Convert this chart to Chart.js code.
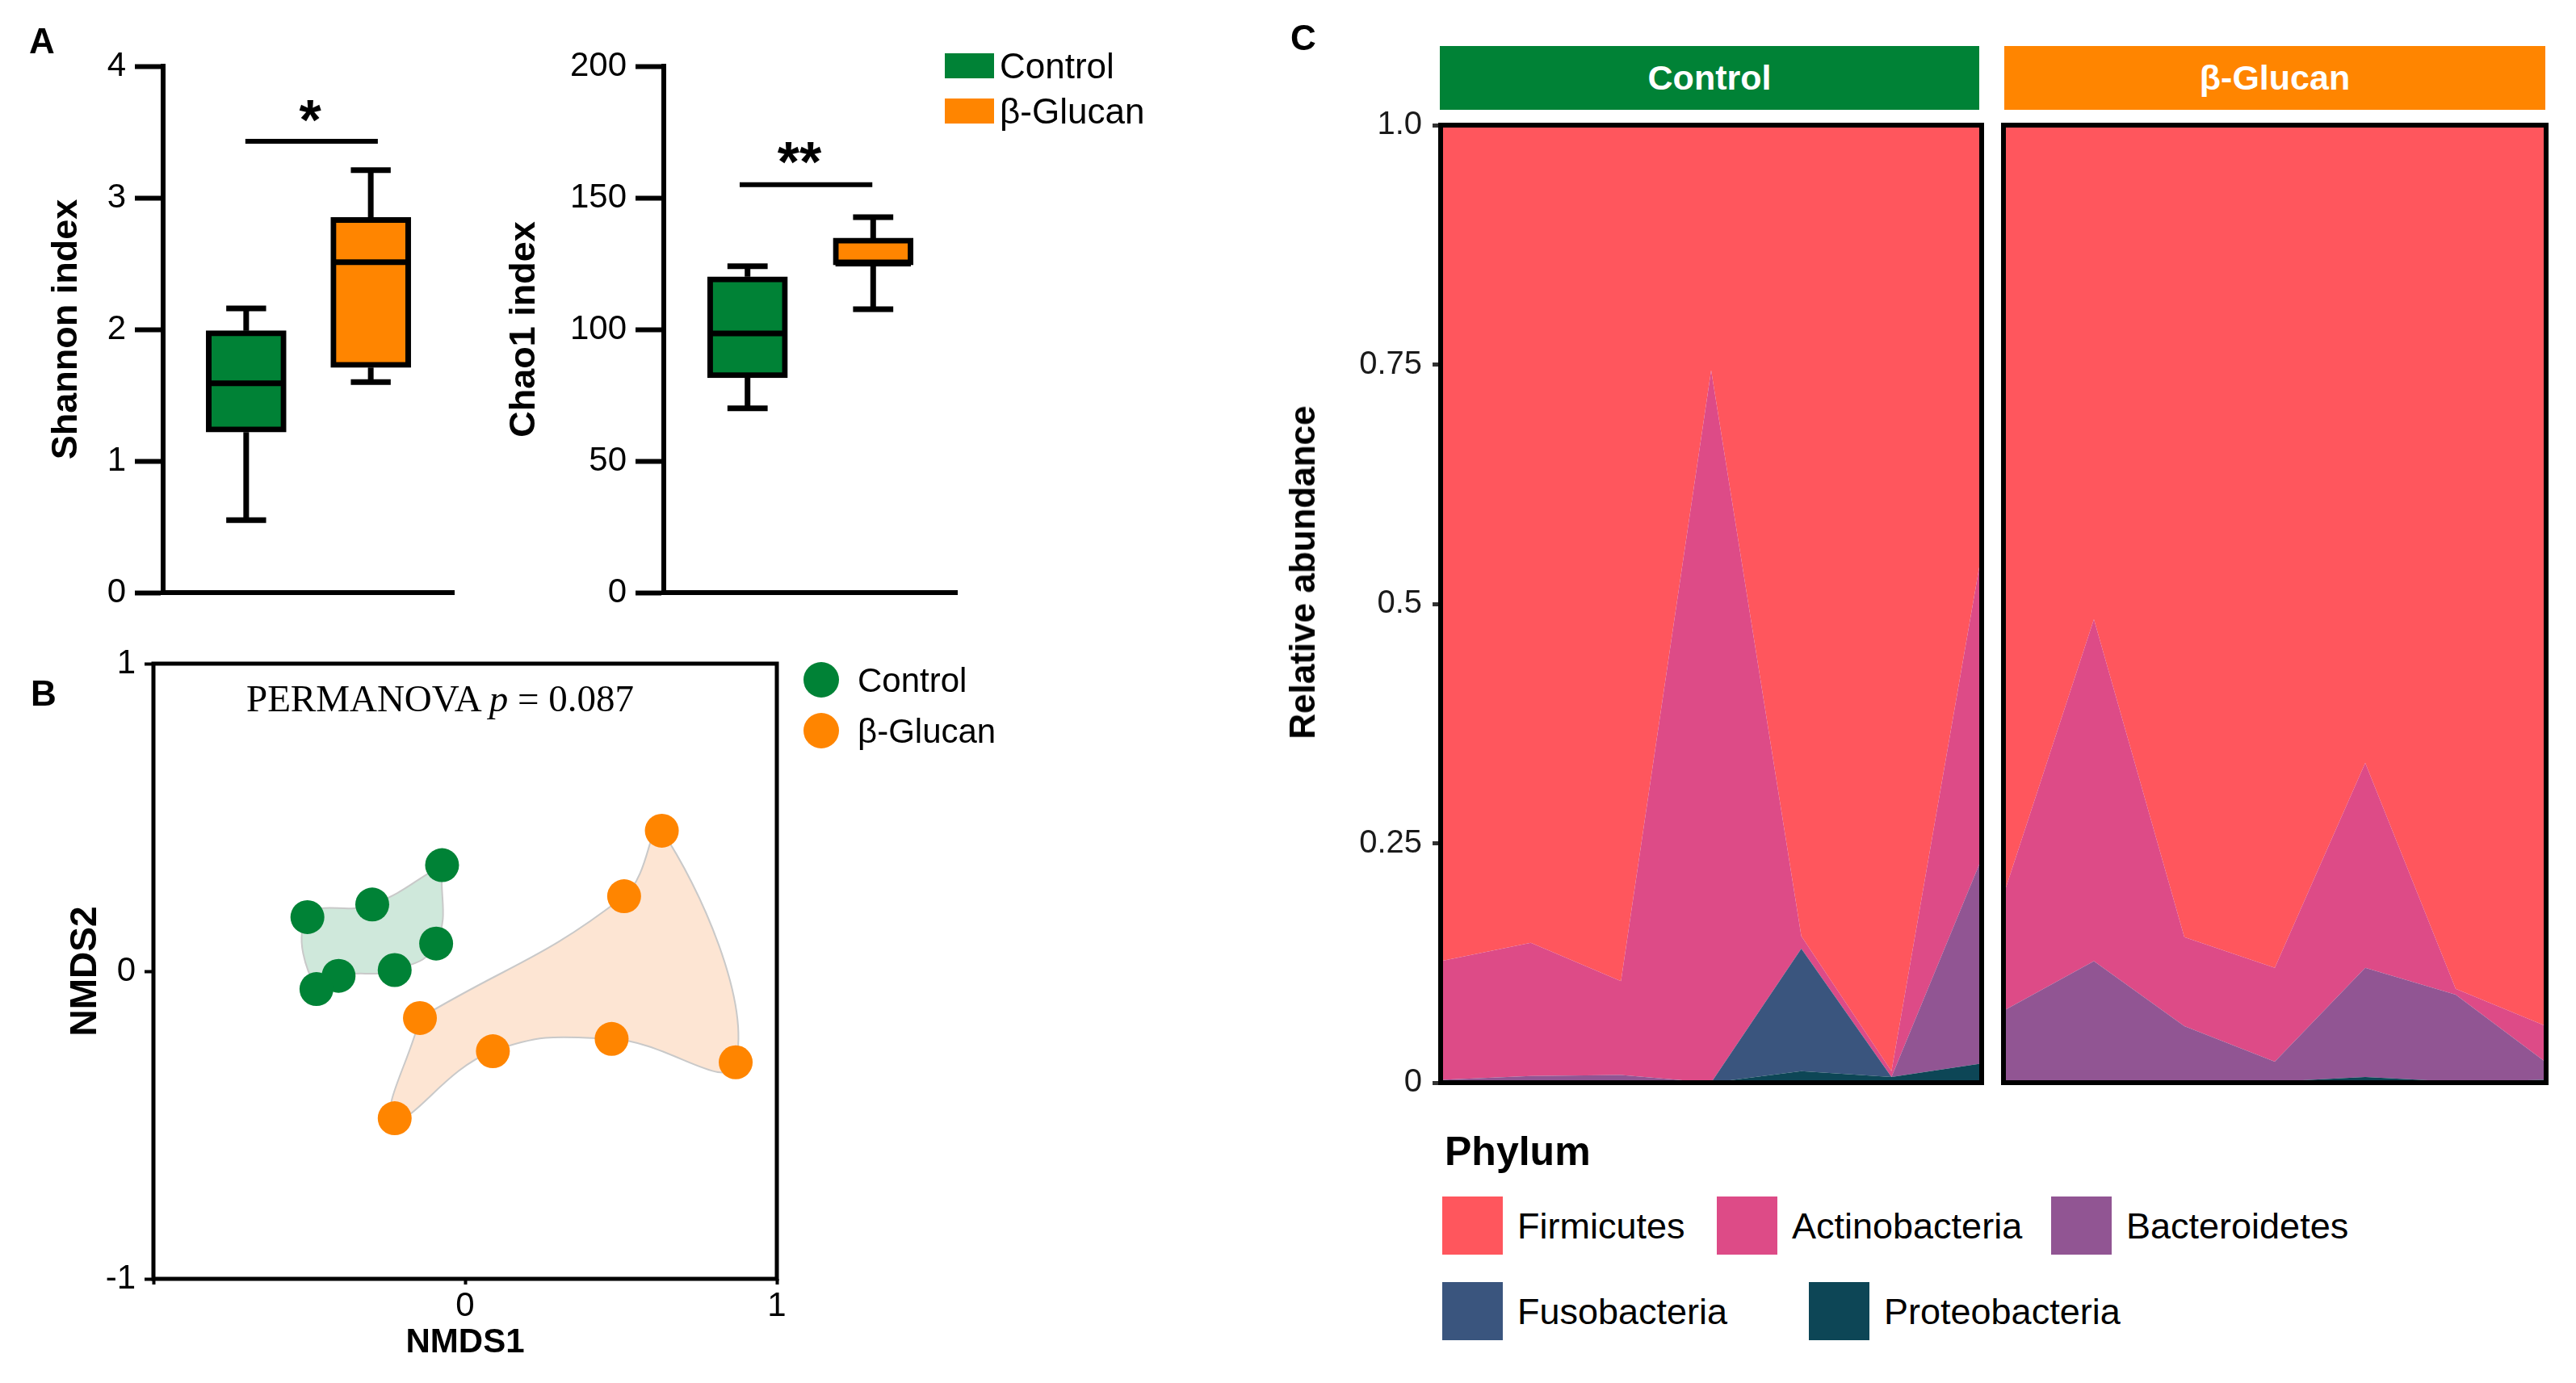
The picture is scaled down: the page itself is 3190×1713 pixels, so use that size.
<!DOCTYPE html>
<html><head><meta charset="utf-8">
<script src="https://cdn.jsdelivr.net/npm/chart.js@4/dist/chart.umd.min.js"></script>
<style>
html,body{margin:0;padding:0;background:#fff;}
body{width:3190px;height:1713px;position:relative;overflow:hidden;font-family:'Liberation Sans',Arial,sans-serif;}
canvas{position:absolute;}
.t{position:absolute;white-space:nowrap;line-height:1;color:#000;}
.sw{position:absolute;}
</style></head><body>
<canvas id="shannon" width="600" height="800" style="left:0;top:0"></canvas>
<canvas id="chao" width="600" height="800" style="left:600px;top:0"></canvas>
<canvas id="nmds" width="1000" height="933" style="left:0;top:780px"></canvas>
<canvas id="areaCtrl" width="900" height="1400" style="left:1560px;top:0"></canvas>
<canvas id="areaGlu" width="690" height="1400" style="left:2475px;top:0"></canvas>
<script>
// ================= DATA =================
const groups = ['Control', 'β-Glucan'];
const groupColors = ['#008236', '#FF8500'];
const groupPos = [1, 2.5];

// Panel A – Shannon
const shannonMin = [0.55, 1.60];
const shannonQ1  = [1.22, 1.71];
const shannonMed = [1.59, 2.51];
const shannonQ3  = [1.99, 2.85];
const shannonMax = [2.16, 3.21];
const shannonTicks = [0, 1, 2, 3, 4];
const shannonSigSpan = [0.99, 2.585];
const shannonSigY = 3.43;
const shannonSigLabel = '*';
const shannonSigLabelPos = [1.77, 3.69];

// Panel A – Chao1
const chaoMin = [70, 107.7];
const chaoQ1  = [81.6, 124.5];
const chaoMed = [98.5, 125];
const chaoQ3  = [120, 134.7];
const chaoMax = [124, 142.6];
const chaoTicks = [0, 50, 100, 150, 200];
const chaoSigSpan = [0.906, 2.49];
const chaoSigY = 155;
const chaoSigLabel = '**';
const chaoSigLabelPos = [1.62, 168.7];

// Panel B – NMDS (listed in hull order)
const ctrlNmds1 = [-0.074, -0.093, -0.226, -0.406, -0.477, -0.506, -0.298];
const ctrlNmds2 = [0.345, 0.090, 0.004, -0.015, -0.058, 0.176, 0.217];
const gluNmds1  = [-0.145, 0.510, 0.631, 0.868, 0.470, 0.089, -0.226];
const gluNmds2  = [-0.152, 0.244, 0.457, -0.296, -0.220, -0.260, -0.478];
const nmdsTicks = [-1, 0, 1];
const nmdsXTickLabels = ['', '0', '1'];
const nmdsYTickLabels = ['-1', '0', '1'];
const permanovaP = '0.087';

// Panel C – relative abundance (7 samples per group)
const phyla = ['Firmicutes', 'Actinobacteria', 'Bacteroidetes', 'Fusobacteria', 'Proteobacteria'];
const phylaColors = ['#FF565D', '#DD4B87', '#915593', '#3A557E', '#0D4656'];
const samplesControl = ['C1', 'C2', 'C3', 'C4', 'C5', 'C6', 'C7'];
const samplesGlucan  = ['G1', 'G2', 'G3', 'G4', 'G5', 'G6', 'G7'];
const ctrlFirmicutes     = [0.873, 0.854, 0.894, 0.256, 0.847, 0.988, 0.447];
const ctrlActinobacteria = [0.124, 0.139, 0.098, 0.744, 0.013, 0.006, 0.319];
const ctrlBacteroidetes  = [0.002, 0.005, 0.006, 0.000, 0.000, 0.000, 0.214];
const ctrlFusobacteria   = [0.000, 0.000, 0.000, 0.000, 0.128, 0.000, 0.000];
const ctrlProteobacteria = [0.001, 0.002, 0.002, 0.000, 0.012, 0.006, 0.020];
const gluFirmicutes      = [0.804, 0.516, 0.848, 0.880, 0.666, 0.902, 0.941];
const gluActinobacteria  = [0.121, 0.357, 0.093, 0.098, 0.214, 0.006, 0.038];
const gluBacteroidetes   = [0.074, 0.126, 0.057, 0.021, 0.114, 0.091, 0.018];
const gluFusobacteria    = [0.000, 0.000, 0.000, 0.000, 0.000, 0.000, 0.000];
const gluProteobacteria  = [0.001, 0.001, 0.002, 0.001, 0.006, 0.001, 0.003];
const abundTicks = [0, 0.25, 0.5, 0.75, 1];
const abundTickLabels = ['0', '0.25', '0.5', '0.75', '1.0'];

// ================= SETUP =================
const FONT = "'Liberation Sans', Arial, sans-serif";
Chart.defaults.font.family = FONT;
Chart.defaults.color = '#000';
Chart.defaults.animation = false;
Chart.defaults.events = [];
Chart.defaults.plugins.legend.display = false;
Chart.defaults.plugins.tooltip.enabled = false;

const fixedTicks = values => s => { s.ticks = values.map(v => ({value: v})); };

const framePlugin = {
  id: 'frame',
  afterDatasetsDraw(chart, args, o) {
    if (!o || !o.width) return;
    const {ctx, chartArea: a} = chart;
    ctx.save();
    ctx.lineWidth = o.width; ctx.strokeStyle = o.color || '#000';
    ctx.strokeRect(a.left, a.top, a.right - a.left, a.bottom - a.top);
    ctx.restore();
  }
};
const sigPlugin = {
  id: 'sig',
  afterDatasetsDraw(chart, args, o) {
    if (!o || !o.text) return;
    const {ctx, scales: {x, y}} = chart;
    ctx.save();
    ctx.font = `bold ${o.size}px ${FONT}`;
    ctx.textAlign = 'center'; ctx.textBaseline = 'alphabetic'; ctx.fillStyle = '#000';
    ctx.fillText(o.text, x.getPixelForValue(o.pos[0]), y.getPixelForValue(o.pos[1]) + 0.58 * o.size);
    ctx.restore();
  }
};

// ================= PANEL A =================
const CAP = 0.24, HALF = 0.45;
function boxChart(id, d) {
  const boxData = groupPos.map((x, i) => ({x, y: [d.q1[i], d.q3[i]]}));
  const lines = [];
  groupPos.forEach((x, i) => {
    lines.push({x, y: d.q3[i]}, {x, y: d.max[i]}, {x, y: null},
      {x: x - CAP, y: d.max[i]}, {x: x + CAP, y: d.max[i]}, {x, y: null},
      {x, y: d.q1[i]}, {x, y: d.min[i]}, {x, y: null},
      {x: x - CAP, y: d.min[i]}, {x: x + CAP, y: d.min[i]}, {x, y: null},
      {x: x - HALF, y: d.med[i]}, {x: x + HALF, y: d.med[i]}, {x, y: null});
  });
  new Chart(document.getElementById(id), {
    type: 'bar',
    data: { datasets: [
      {type: 'line', data: lines, borderColor: '#000', borderWidth: 7, pointRadius: 0, spanGaps: false, tension: 0, order: 1},
      {type: 'line', data: [{x: d.sigSpan[0], y: d.sigY}, {x: d.sigSpan[1], y: d.sigY}], borderColor: '#000', borderWidth: 6, pointRadius: 0, order: 1},
      {type: 'bar', data: boxData, backgroundColor: groupColors, borderColor: '#000', borderWidth: 7, borderSkipped: false, barThickness: 99, order: 2}
    ]},
    options: {
      responsive: false,
      layout: {padding: {left: 0, right: d.padRight, top: 82, bottom: 0}},
      scales: {
        x: {type: 'linear', min: 0, max: 3.5, offset: false, grid: {display: false, drawTicks: false}, ticks: {display: false},
            border: {display: true, width: 6, color: '#000'}, afterFit: s => { s.height = 66; }},
        y: {min: 0, max: d.ticks[d.ticks.length - 1], afterBuildTicks: fixedTicks(d.ticks),
            grid: {drawOnChartArea: false, drawTicks: true, tickLength: 35, tickWidth: 6, tickColor: '#000'},
            border: {display: true, width: 6, color: '#000'},
            ticks: {font: {size: 42}, color: '#000', padding: 11},
            title: {display: true, text: d.title, font: {size: 45, weight: 'bold'}, color: '#000', padding: {top: d.titlePad, bottom: 0}},
            afterFit: s => { s.width = d.yWidth; }}
      },
      plugins: {sig: {text: d.sigLabel, pos: d.sigPos, size: 70}}
    },
    plugins: [sigPlugin]
  });
}
boxChart('shannon', {min: shannonMin, q1: shannonQ1, med: shannonMed, q3: shannonQ3, max: shannonMax, ticks: shannonTicks,
  sigSpan: shannonSigSpan, sigY: shannonSigY, sigLabel: shannonSigLabel, sigPos: shannonSigLabelPos,
  title: 'Shannon index', titlePad: 56, yWidth: 202, padRight: 38});
boxChart('chao', {min: chaoMin, q1: chaoQ1, med: chaoMed, q3: chaoQ3, max: chaoMax, ticks: chaoTicks,
  sigSpan: chaoSigSpan, sigY: chaoSigY, sigLabel: chaoSigLabel, sigPos: chaoSigLabelPos,
  title: 'Chao1 index', titlePad: 23, yWidth: 222, padRight: 15});

// ================= PANEL B =================
const ctrlPts = ctrlNmds1.map((x, i) => ({x, y: ctrlNmds2[i]}));
const gluPts = gluNmds1.map((x, i) => ({x, y: gluNmds2[i]}));
new Chart(document.getElementById('nmds'), {
  type: 'line',
  data: { datasets: [
    {data: ctrlPts.concat([ctrlPts[0]]), showLine: true, fill: 'shape', backgroundColor: '#CFE8DB', borderColor: '#C9C9C9', borderWidth: 2, pointRadius: 0, tension: 0.45, order: 3},
    {data: gluPts.concat([gluPts[0]]), showLine: true, fill: 'shape', backgroundColor: '#FDE5D3', borderColor: '#C9C9C9', borderWidth: 2, pointRadius: 0, tension: 0.45, order: 3},
    {data: ctrlPts, showLine: false, pointRadius: 21, backgroundColor: groupColors[0], pointBackgroundColor: groupColors[0], pointBorderWidth: 0, order: 1},
    {data: gluPts, showLine: false, pointRadius: 21, backgroundColor: groupColors[1], pointBackgroundColor: groupColors[1], pointBorderWidth: 0, order: 1}
  ]},
  options: {
    responsive: false,
    layout: {padding: {left: 0, right: 38, top: 42, bottom: 0}},
    scales: {
      x: {type: 'linear', min: -1, max: 1, afterBuildTicks: fixedTicks(nmdsTicks),
          grid: {drawOnChartArea: false, drawTicks: true, tickLength: 7, tickWidth: 4, tickColor: '#000'},
          border: {display: false},
          ticks: {font: {size: 42}, color: '#000', padding: 2, callback: (v, i) => nmdsXTickLabels[i]},
          title: {display: true, text: 'NMDS1', font: {size: 42, weight: 'bold'}, color: '#000', padding: {top: 0, bottom: 24}},
          afterFit: s => { s.height = 129; }},
      y: {type: 'linear', min: -1, max: 1, afterBuildTicks: fixedTicks(nmdsTicks),
          grid: {drawOnChartArea: false, drawTicks: true, tickLength: 11, tickWidth: 4, tickColor: '#000'},
          border: {display: false},
          ticks: {font: {size: 42}, color: '#000', padding: 11, callback: (v, i) => nmdsYTickLabels[i]},
          title: {display: true, text: 'NMDS2', font: {size: 46, weight: 'bold'}, color: '#000', padding: {top: 79, bottom: 0}},
          afterFit: s => { s.width = 190; }}
    },
    plugins: {frame: {width: 5, color: '#000'}}
  },
  plugins: [framePlugin]
});

// ================= PANEL C =================
function areaChart(id, labels, series, showY, pad) {
  // series listed top → bottom; stack from bottom
  const order = [4, 3, 2, 1, 0];
  const datasets = order.map((k, j) => ({
    label: phyla[k], data: series[k], backgroundColor: phylaColors[k], borderWidth: 0,
    pointRadius: 0, tension: 0, fill: j === 0 ? 'origin' : '-1'
  }));
  new Chart(document.getElementById(id), {
    type: 'line',
    data: {labels, datasets},
    options: {
      responsive: false,
      layout: {padding: pad},
      scales: {
        x: {type: 'category', display: false, offset: false},
        y: {display: showY, stacked: true, min: 0, max: 1, afterBuildTicks: fixedTicks(abundTicks),
            grid: {drawOnChartArea: false, drawTicks: true, tickLength: 10, tickWidth: 5, tickColor: '#333'},
            border: {display: false},
            ticks: {font: {size: 40}, color: '#1a1a1a', padding: 13, callback: (v, i) => abundTickLabels[i]},
            afterFit: s => { s.width = showY ? 224 : 0; }}
      },
      plugins: {frame: {width: 6, color: '#000'}}
    },
    plugins: [framePlugin]
  });
}
areaChart('areaCtrl', samplesControl,
  [ctrlFirmicutes, ctrlActinobacteria, ctrlBacteroidetes, ctrlFusobacteria, ctrlProteobacteria],
  true, {left: 0, right: 6, top: 155, bottom: 59});
areaChart('areaGlu', samplesGlucan,
  [gluFirmicutes, gluActinobacteria, gluBacteroidetes, gluFusobacteria, gluProteobacteria],
  false, {left: 6, right: 12, top: 155, bottom: 59});

// ================= HTML TEXT / LEGENDS =================
function txt(s, left, capCenter, size, opts = {}) {
  const d = document.createElement('div');
  d.className = 't';
  d.innerHTML = s;
  d.style.left = left + 'px';
  d.style.top = (capCenter - 0.488 * size) + 'px';
  d.style.fontSize = size + 'px';
  if (opts.bold) d.style.fontWeight = 'bold';
  if (opts.color) d.style.color = opts.color;
  document.body.appendChild(d);
  return d;
}
function box(left, top, w, h, color, radius) {
  const d = document.createElement('div');
  d.className = 'sw';
  Object.assign(d.style, {left: left + 'px', top: top + 'px', width: w + 'px', height: h + 'px', background: color, borderRadius: radius || 0});
  document.body.appendChild(d);
  return d;
}
// panel letters
txt('A', 36, 50, 44, {bold: true});
txt('B', 38, 858, 44, {bold: true});
txt('C', 1598, 46, 44, {bold: true});

// legend A
groups.forEach((g, i) => {
  box(1170, 66 + i * 56, 61, 31, groupColors[i]);
  txt(g, 1238, 81 + i * 56, 44);
});
// legend B
groups.forEach((g, i) => {
  box(995, 820 + i * 63, 44, 44, groupColors[i], '50%');
  txt(g, 1062, 842 + i * 63, 42);
});
// PERMANOVA
const pm = document.createElement('div');
pm.className = 't';
pm.style.cssText = "left:305px;top:842px;font-size:47px;font-family:'Liberation Serif','Times New Roman',serif;";
pm.innerHTML = 'PERMANOVA <i>p</i> = ' + permanovaP;
document.body.appendChild(pm);

// strips for C
const strips = [[1783, 668], [2482, 670]];
groups.forEach((g, i) => {
  const s = box(strips[i][0], 57, strips[i][1], 79, groupColors[i]);
  s.style.display = 'flex'; s.style.alignItems = 'center'; s.style.justifyContent = 'center';
  s.style.color = '#fff'; s.style.fontWeight = 'bold'; s.style.fontSize = '43px'; s.style.lineHeight = '1';
  s.textContent = g;
});
// y title C
const yt = document.createElement('div');
yt.className = 't';
yt.style.cssText = 'left:1613px;top:709px;font-size:44px;font-weight:bold;transform:translate(-50%,-50%) rotate(-90deg);';
yt.textContent = 'Relative abundance';
document.body.appendChild(yt);

// legend C
txt('Phylum', 1789, 1425, 50, {bold: true});
const legPos = [[1786, 1482], [2126, 1482], [2540, 1482], [1786, 1588], [2240, 1588]];
phyla.forEach((p, k) => {
  box(legPos[k][0], legPos[k][1], 75, 72, phylaColors[k]);
  txt(p, legPos[k][0] + 93, legPos[k][1] + 36, 45);
});
</script>
</body></html>
